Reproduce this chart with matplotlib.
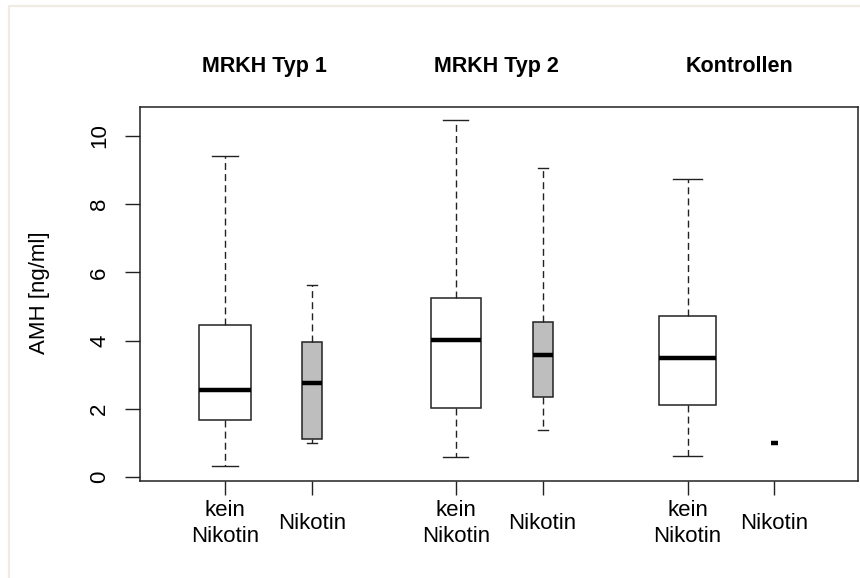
import matplotlib
matplotlib.use("Agg")
import matplotlib.pyplot as plt
from matplotlib.patches import Rectangle

plt.rcParams["font.family"] = ["Liberation Sans", "DejaVu Sans"]

# AMH-Werte je Gruppe und Raucherstatus (Boxplot-Kennwerte)
groups = ["MRKH Typ 1", "MRKH Typ 2", "Kontrollen"]
labels = ["kein\nNikotin", "Nikotin"] * 3
whis_lo = [0.32, 0.98, 0.58, 1.37, 0.62, 0.98]
q1 = [1.68, 1.10, 2.03, 2.34, 2.11, 0.98]
median = [2.56, 2.74, 4.01, 3.57, 3.48, 0.98]
q3 = [4.46, 3.96, 5.24, 4.54, 4.71, 0.98]
whis_hi = [9.42, 5.63, 10.47, 9.05, 8.74, 0.98]
nicotine = [False, True, False, True, False, True]

positions = [1, 2, 3.66, 4.66, 6.33, 7.33]
widths = [0.61, 0.227, 0.58, 0.227, 0.66, 0.09]
group_x = [1.45, 4.13, 6.93]

fig = plt.figure(figsize=(8.6, 5.78), dpi=100)
ax = fig.add_axes([140 / 860, 1 - 481 / 578, 718 / 860, 374 / 578])

stats = [dict(whislo=lo, q1=a, med=m, q3=b, whishi=hi, fliers=[])
         for lo, a, m, b, hi in zip(whis_lo, q1, median, q3, whis_hi)]
bp = ax.bxp(stats, positions=positions, widths=widths, patch_artist=True,
            showfliers=False, capwidths=[w * 0.5 for w in widths],
            boxprops=dict(linewidth=1.1, edgecolor="#222222"),
            whiskerprops=dict(linewidth=1.0, linestyle=(0, (5, 3)), color="#222222"),
            capprops=dict(linewidth=1.0, color="#222222"),
            medianprops=dict(linewidth=3.2, color="black", solid_capstyle="butt"))
for patch, nic in zip(bp["boxes"], nicotine):
    patch.set_facecolor("#BEBEBE" if nic else "white")

ax.set_xlim(0.021, 8.293)
ax.set_ylim(-0.12, 10.85)
ax.set_yticks([0, 2, 4, 6, 8, 10])
ax.set_xticks(positions)
ax.set_xticklabels([])
for s in ax.spines.values():
    s.set_linewidth(1.1)
    s.set_color("#222222")
ax.tick_params(axis="x", length=10, width=1, color="#222222")
ax.tick_params(axis="y", length=10.5, width=1, color="#222222",
               labelsize=16, labelrotation=90, pad=11)
for t in ax.get_yticklabels():
    t.set_va("center")

for x, lab in zip(positions, labels):
    ax.text(x, -0.113, lab, transform=ax.get_xaxis_transform(), ha="center",
            va="center", fontsize=16, linespacing=1.3, multialignment="center")

for x, g in zip(group_x, groups):
    ax.text(x, 1.108, g, transform=ax.get_xaxis_transform(), ha="center",
            va="center", fontsize=15.5, fontweight="bold")

fig.text(40 / 860, 1 - 293 / 578, "AMH [ng/ml]", rotation=90, ha="center",
         va="center", fontsize=16)

# heller Rahmen oben/links
fig.add_artist(Rectangle((9 / 860, -0.2), 1.2, 1 - 6 / 578 + 0.2,
                         transform=fig.transFigure, fill=False,
                         edgecolor="#EFECE1", linewidth=1.6, clip_on=False))

fig.savefig("out.png", dpi=100)
